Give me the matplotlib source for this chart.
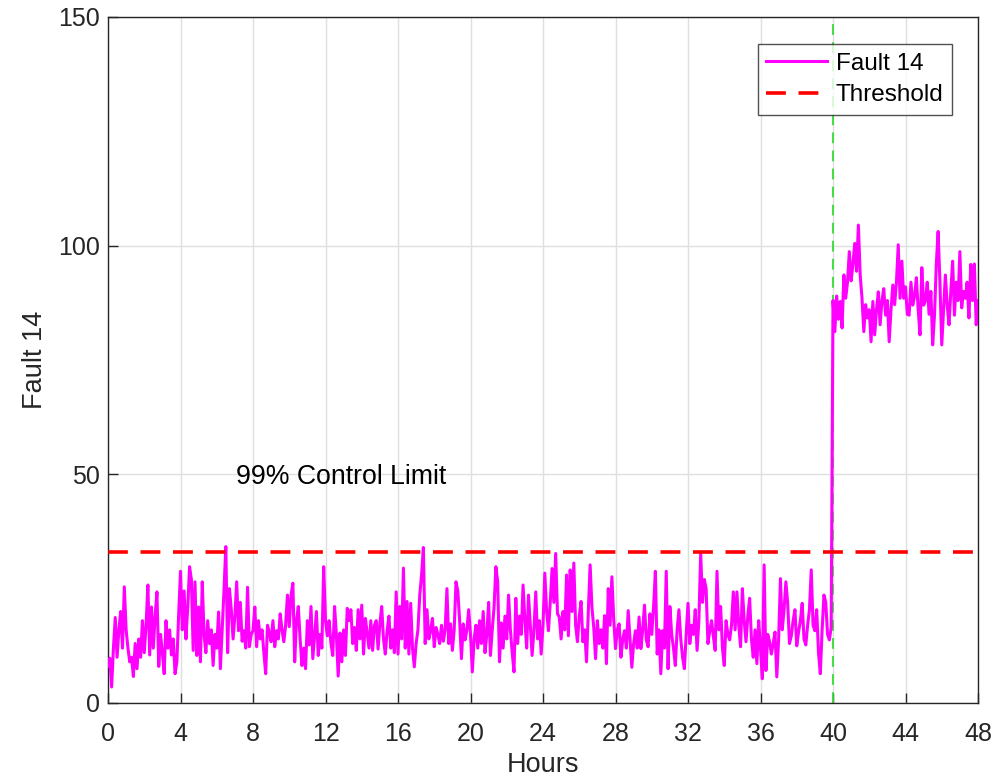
import numpy as np
import matplotlib
matplotlib.use("Agg")
import matplotlib.pyplot as plt

plt.rcParams['font.family'] = ['Liberation Sans', 'DejaVu Sans']

normal_vals = [
    8, 9.8, 3.5, 12, 18.7, 10, 16, 20, 12, 25.4,
    16, 12, 9, 10, 5.8, 13, 7.5, 14, 10, 18,
    11, 17, 25.8, 10.5, 21, 12, 19, 24.3, 8, 15,
    11, 6.4, 18, 12, 16, 10.5, 14, 6.4, 9, 19.5,
    28.8, 16, 24.5, 14, 21, 29.8, 27, 11.5, 26.5, 10.4,
    21, 9, 26.5, 15, 11, 18, 13, 16, 8.2, 15,
    12, 19.9, 7.5, 16, 24.7, 34.2, 11, 25, 20.5, 14,
    19, 26.5, 15.8, 22, 13.5, 15.8, 12, 25.3, 12.3, 15,
    15.8, 21, 12.3, 18, 14, 16, 11, 6.4, 17, 15.4,
    13.4, 18, 12.3, 15.8, 14, 19.5, 16, 13.4, 17, 23.6,
    16.7, 23.6, 26.2, 9.0, 18, 21.1, 14, 8.2, 12, 7.5,
    18, 12.7, 21.1, 9.7, 14.7, 20, 10.4, 15, 12, 29.8,
    18, 14.7, 18, 13, 10.4, 21.1, 15, 5.9, 15.3, 9.0,
    16, 10.4, 20.7, 18, 20.4, 13, 16.5, 11.5, 20.4, 14,
    21.4, 10.7, 18.5, 15.3, 12, 18, 11.5, 17, 18, 11.8,
    17.3, 21.1, 14, 10.7, 15.8, 19, 12, 16, 11, 24.3,
    10.7, 21.1, 14, 29.5, 12, 22.2, 10.7, 21.8, 12, 7.9,
    13, 16, 23.6, 28, 34, 13, 20.4, 14, 15.8, 18.5,
    12.3, 16.5, 15, 13, 17, 13.5, 16, 25, 13, 17.3,
    11.5, 16, 26.5, 24.5, 18, 9.7, 17.3, 13.8, 16, 20.4,
    15, 6.8, 14, 17, 12, 18, 13, 20, 11, 15,
    22, 10.4, 16, 21, 29.8, 26.5, 9, 17.5, 12, 19,
    14, 23.6, 16, 11, 6.8, 22.9, 13, 19, 15, 25.8,
    18, 12, 23.6, 17, 10.4, 16, 24.3, 14, 18, 10.7,
    17, 28.4, 20, 15.8, 22, 29.4, 22, 32.7, 19.5, 18.8,
    14, 20, 16, 28, 14.7, 29.1, 20, 30.6, 17, 13.4,
    19, 22.2, 13.4, 16, 9, 20, 30.2, 21, 16.5, 9.7,
    18, 13, 16, 12, 19.1, 8.6, 25, 17, 27.6, 18.5,
    11.9, 16, 17.3, 10, 14, 15.8, 12, 20.2, 14, 7.8,
    13, 15.8, 12, 18.8, 11.9, 16, 21.4, 13.8, 12.3, 19.5,
    15, 21, 28.8, 10.7, 16, 6.4, 15.8, 12, 28.8, 7.5,
    21.1, 15, 12, 8.2, 16, 20.4, 14, 10, 7.5, 15,
    21.8, 13, 17, 15, 20.4, 11.5, 18, 32.7, 22, 27,
    25, 13, 15.8, 18, 14.5, 11.5, 28.8, 16, 21.1, 12,
    8.2, 18, 15, 13.8, 17, 24.3, 16, 24.3, 17, 12.3,
    25, 18, 13.4, 19, 22.9, 14, 10, 16, 8.6, 18,
    12, 5.3, 30.2, 7.1, 15, 13.4, 10.7, 13, 15.5, 5.7,
    14, 27.2, 16, 20.4, 26.5, 21.8, 13, 14.7, 18, 20.4,
    12.5, 15.5, 18, 21.8, 14, 12.7, 17, 20.4, 29.1, 17,
    15.8, 20.4, 11, 6.4, 16, 23.6, 22, 15, 13.8, 16.5,
]
fault_vals = [
    88, 81.2, 89, 83.9, 87.8, 82, 93.6, 88.5, 92, 98.7,
    92.3, 96, 100.5, 94.4, 104.5, 93.6, 88.5, 81.2, 87.1, 84.2,
    86, 79, 87.8, 80.5, 86, 89.9, 82.7, 88, 90.6, 84.8,
    88, 79, 86, 91.4, 87.1, 92, 100.2, 88.5, 96.6, 88.5,
    91, 85, 84.8, 92, 87, 89, 93, 86, 80.5, 95.2,
    87, 88, 92, 85, 90, 78.3, 84.8, 96, 103.1, 92,
    78.3, 86, 93.6, 87, 82.7, 90, 96.6, 84.8, 92, 88,
    98.7, 86.4, 90, 88.5, 92, 84.2, 95.9, 88, 96, 82.7,
    88,
]
series_vals = normal_vals + fault_vals
hours = np.arange(len(series_vals)) * 0.1

threshold = 33
fault_onset = 40

x_ticks = list(range(0, 49, 4))
y_ticks = [0, 50, 100, 150]

fig = plt.figure(figsize=(10.08, 7.84), dpi=100)
ax = fig.add_axes([108/1008, 1-703/784, 870/1008, 686/784])

ax.plot(hours, series_vals, color='#FF00FF', lw=2.2, label='Fault 14', zorder=3)
ax.axhline(threshold, color='#FF0000', lw=2.6, ls=(0, (5.5, 3.5)), label='Threshold', zorder=4)
ax.axvline(fault_onset, color='#33DD33', lw=1.3, ls=(0, (6, 4)), zorder=2)

ax.text(7.06, 49.4, '99% Control Limit', fontsize=19.2, ha='left', va='center', color='black')

ax.set_xlim(0, 48)
ax.set_ylim(0, 150)
ax.set_xticks(x_ticks)
ax.set_yticks(y_ticks)
ax.grid(True, color='#DFDFDF', lw=1.0)
ax.set_axisbelow(True)
ax.tick_params(direction='in', length=7, width=1, labelsize=18, colors='#262626',
               top=False, right=False)
ax.tick_params(axis='x', pad=14)
ax.tick_params(axis='y', pad=6)
for s in ax.spines.values():
    s.set_color('#262626')
    s.set_linewidth(1.0)

ax.set_xlabel('Hours', fontsize=19.5, color='#262626', labelpad=4)
ax.set_ylabel('Fault 14', fontsize=19.5, color='#262626', labelpad=7)

leg = ax.legend(loc='upper right', bbox_to_anchor=((952 - 108) / 870, (703 - 44) / 686),
                fontsize=17.5, frameon=True, fancybox=False, edgecolor='#262626',
                handlelength=2.5, borderpad=0.35, labelspacing=0.4, handletextpad=0.35,
                borderaxespad=0)
leg.get_frame().set_linewidth(1.0)

fig.savefig('out.png', dpi=100, facecolor='white')
